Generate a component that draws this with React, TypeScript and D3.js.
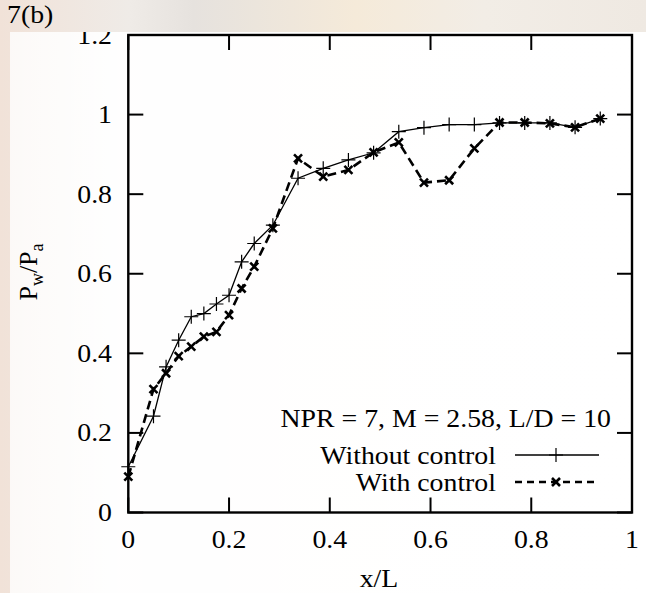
import React from "react";
import * as d3 from "d3";

const xPositions = [0, 0.05, 0.075, 0.1, 0.125, 0.15, 0.175, 0.2, 0.225, 0.25, 0.287, 0.337, 0.387, 0.437, 0.487, 0.537, 0.587, 0.637, 0.687, 0.737, 0.787, 0.837, 0.887, 0.937];
const withoutControl = [0.115, 0.242, 0.366, 0.433, 0.492, 0.5, 0.524, 0.546, 0.63, 0.676, 0.722, 0.84, 0.865, 0.886, 0.904, 0.957, 0.967, 0.975, 0.975, 0.979, 0.979, 0.979, 0.968, 0.99];
const withControl = [0.09, 0.31, 0.35, 0.393, 0.417, 0.442, 0.454, 0.496, 0.563, 0.618, 0.714, 0.89, 0.844, 0.861, 0.905, 0.93, 0.829, 0.835, 0.915, 0.98, 0.98, 0.978, 0.968, 0.99];
const xTicks = [0, 0.2, 0.4, 0.6, 0.8, 1];
const yTicks = [0, 0.2, 0.4, 0.6, 0.8, 1, 1.2];
const seriesNames = ["Without control", "With control"];
const annotation = "NPR = 7, M = 2.58, L/D = 10";
const panelLabel = "7(b)";

const W = 646;
const H = 593;
const L = 128.3, R = 632, T = 35, B = 512.5;
const FONT = "'Liberation Serif', 'Times New Roman', serif";
const FS = 26;
const SX = 1.07;

function T2({ x, y, anchor = "start", children, size = FS }: any) {
  return (
    <text
      transform={`translate(${x},${y}) scale(${SX},1)`}
      textAnchor={anchor}
      fontFamily={FONT}
      fontSize={size}
      fill="#000"
    >
      {children}
    </text>
  );
}

export default function App() {
  const x = d3.scaleLinear().domain([0, 1]).range([L, R]);
  const y = d3.scaleLinear().domain([0, 1.2]).range([B, T]);
  const pts1 = xPositions.map((v, i) => [x(v), y(withoutControl[i])] as [number, number]);
  const pts2 = xPositions.map((v, i) => [x(v), y(withControl[i])] as [number, number]);
  const line = d3.line();
  const plus = (cx: number, cy: number, s = 7) => `M${cx - s},${cy}H${cx + s}M${cx},${cy - s}V${cy + s}`;
  const cross = (cx: number, cy: number, s = 4) => `M${cx - s},${cy - s}L${cx + s},${cy + s}M${cx - s},${cy + s}L${cx + s},${cy - s}`;
  const tickLen = 15;

  const legY1 = 455, legY2 = 482, legX0 = 515, legX1 = 599, legMid = 556;

  return (
    <svg width={W} height={H} style={{ position: "absolute", left: 0, top: 0 }}>
      <defs>
        <linearGradient id="bg" x1="0" y1="0" x2="1" y2="0">
          <stop offset="0" stopColor="#f1e2d8" />
          <stop offset="0.2" stopColor="#efebe7" />
          <stop offset="0.3" stopColor="#e6e2de" />
          <stop offset="0.55" stopColor="#f5ead9" />
          <stop offset="0.75" stopColor="#f2ede6" />
          <stop offset="1" stopColor="#efe9e2" />
        </linearGradient>
        <linearGradient id="panel" x1="0" y1="0" x2="1" y2="0">
          <stop offset="0" stopColor="#ffffff" stopOpacity="0.8" />
          <stop offset="0.17" stopColor="#ffffff" stopOpacity="0.97" />
          <stop offset="1" stopColor="#ffffff" stopOpacity="1" />
        </linearGradient>
      </defs>
      <rect x={0} y={0} width={W} height={H} fill="url(#bg)" />
      <rect x={10} y={32} width={W - 10} height={H - 32} fill="url(#panel)" />

      {/* ticks */}
      {yTicks.map((t) => (
        <g key={"yt" + t}>
          <line x1={L} x2={L + tickLen} y1={y(t)} y2={y(t)} stroke="#000" strokeWidth={2} />
          <line x1={R} x2={R - tickLen} y1={y(t)} y2={y(t)} stroke="#000" strokeWidth={2} />
          <T2 x={112} y={y(t) + 8.5} anchor="end">{String(t)}</T2>
        </g>
      ))}
      {xTicks.map((t) => (
        <g key={"xt" + t}>
          <line x1={x(t)} x2={x(t)} y1={B} y2={B - tickLen} stroke="#000" strokeWidth={2} />
          <line x1={x(t)} x2={x(t)} y1={T} y2={T + tickLen} stroke="#000" strokeWidth={2} />
          <T2 x={x(t)} y={548} anchor="middle">{String(t)}</T2>
        </g>
      ))}

      {/* series */}
      <path d={line(pts1) || ""} fill="none" stroke="#000" strokeWidth={1.3} />
      {pts1.map((p, i) => (
        <path key={"p1" + i} d={plus(p[0], p[1])} stroke="#000" strokeWidth={1.2} fill="none" />
      ))}
      <path d={line(pts2) || ""} fill="none" stroke="#000" strokeWidth={2.6} strokeDasharray="9,5" />
      {pts2.map((p, i) => (
        <path key={"p2" + i} d={cross(p[0], p[1])} stroke="#000" strokeWidth={2.6} fill="none" />
      ))}

      {/* frame */}
      <rect x={L} y={T} width={R - L} height={B - T} fill="none" stroke="#000" strokeWidth={2.4} />

      {/* legend */}
      <T2 x={611} y={427} anchor="end">{annotation}</T2>
      <T2 x={496} y={464} anchor="end">{seriesNames[0]}</T2>
      <T2 x={496} y={491} anchor="end">{seriesNames[1]}</T2>
      <line x1={legX0} x2={legX1} y1={legY1} y2={legY1} stroke="#000" strokeWidth={1.3} />
      <path d={plus(legMid, legY1)} stroke="#000" strokeWidth={1.2} fill="none" />
      <line x1={legX0} x2={legX1} y1={legY2} y2={legY2} stroke="#000" strokeWidth={2.6} strokeDasharray="7,5" />
      <path d={cross(legMid, legY2)} stroke="#000" strokeWidth={2.6} fill="none" />

      {/* axis titles */}
      <T2 x={379} y={587} anchor="middle">x/L</T2>
      <text transform="translate(37,272) rotate(-90)" textAnchor="middle" fontFamily={FONT} fontSize={FS} fill="#000">
        P<tspan dy={6} fontSize={18}>w</tspan>
        <tspan dy={-6}>/P</tspan>
        <tspan dy={6} fontSize={18}>a</tspan>
      </text>

      {/* top strip */}
      <rect x={0} y={0} width={W} height={32} fill="url(#bg)" />
      <T2 x={7} y={23}>{panelLabel}</T2>
    </svg>
  );
}
